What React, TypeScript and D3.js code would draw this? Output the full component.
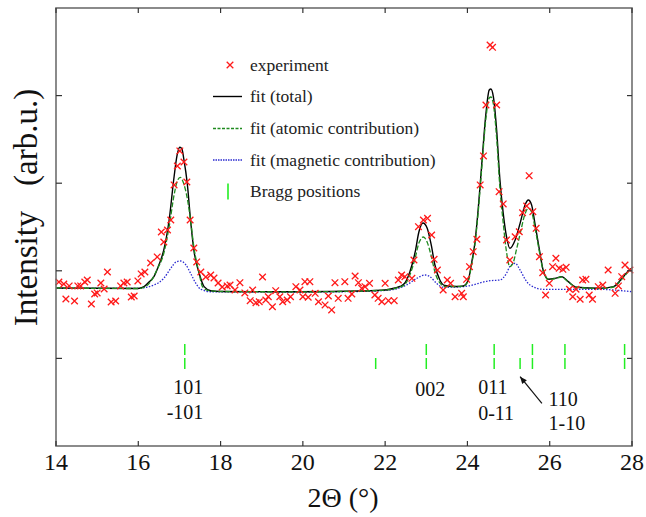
import React from "react";
import * as d3 from "d3";

// ---------- data ----------
const expX = [14.07,14.19,14.24,14.32,14.45,14.53,14.60,14.70,14.76,14.86,14.94,15.00,15.09,15.17,15.25,15.34,15.45,15.57,15.65,15.73,15.83,15.90,15.99,16.07,16.16,16.30,16.46,16.56,16.62,16.71,16.79,16.87,16.95,17.01,17.11,17.18,17.26,17.35,17.42,17.52,17.64,17.76,17.84,17.94,18.04,18.16,
  18.23,18.35,18.47,18.59,18.72,18.78,18.86,18.94,19.02,19.10,19.16,19.26,19.34,19.44,19.51,19.62,19.70,19.83,19.93,20.00,20.05,20.13,20.17,20.30,20.38,20.54,20.62,20.70,20.78,20.86,21.02,21.10,21.19,21.27,21.35,21.43,21.51,21.62,21.75,21.83,21.92,22.00,22.08,22.22,22.32,22.40,22.48,22.65,
  22.70,22.81,22.93,23.03,23.13,23.19,23.27,23.41,23.51,23.59,23.70,23.86,23.90,23.98,24.05,24.14,24.23,24.31,24.39,24.45,24.55,24.61,24.71,24.77,24.87,24.95,25.03,25.16,25.26,25.34,25.44,25.50,25.59,25.67,25.75,25.83,25.90,25.99,26.07,26.15,26.23,26.32,26.40,26.48,26.56,26.64,26.74,26.80,26.88,26.96,27.04,27.18,27.29,27.42,27.59,27.67,27.75,27.83,27.95];
const expY = [187.2,184.9,167.8,182.7,165.5,182.7,182.7,187.2,189.5,162.1,173.5,174.7,186.1,179.2,198.6,164.4,165.5,182.7,186.1,187.2,170.1,171.2,188.4,196.4,198.6,208.9,215.8,244.3,232.9,246.6,258.0,298.0,319.6,336.8,324.2,301.4,258.0,226.0,210.1,198.6,192.9,195.2,191.8,186.1,181.5,182.7,
  183.8,178.1,186.4,174.7,165.9,178.1,163.6,164.7,192.9,166.7,170.4,159.0,177.3,170.4,164.7,166.7,170.4,181.9,178.1,170.4,187.6,169.8,187.6,174.3,164.7,161.0,171.2,155.3,186.4,168.6,187.6,168.6,173.5,194.1,186.4,180.0,181.9,185.7,172.4,168.6,164.7,185.7,165.9,165.9,189.5,195.2,193.3,191.4,
  212.3,250.4,258.0,259.9,240.9,213.1,200.9,178.1,189.5,185.7,170.4,174.3,170.4,190.3,204.7,221.8,236.0,298.0,331.1,389.3,457.8,455.1,389.3,290.3,276.3,235.2,212.3,238.9,244.6,266.3,274.0,308.6,267.5,248.5,216.1,197.8,172.4,185.7,204.7,214.3,202.9,201.7,204.0,178.9,170.4,178.9,167.5,189.5,190.3,172.4,167.5,181.9,183.8,200.9,174.3,182.7,193.3,206.6,200.9];

const totalX = [14.00,15.00,15.99,16.14,16.26,16.38,16.50,16.62,16.75,16.87,16.94,17.01,17.06,17.11,17.19,17.27,17.35,17.48,17.60,17.76,17.99,19.93,21.39,22.00,22.24,22.36,22.48,22.60,22.73,22.82,22.92,23.02,23.12,23.21,23.33,23.45,23.70,23.90,24.02,24.10,24.18,24.26,24.35,24.45,24.53,24.57,24.63,24.71,24.79,24.87,24.95,25.03,25.16,25.28,25.40,25.48,25.56,25.64,25.75,25.84,25.97,26.13,26.29,26.45,26.66,27.22,27.55,27.79,27.95,28.00];
const totalY = [180.4,180.0,179.8,181.9,187.2,193.3,206.6,223.8,258.0,307.4,331.1,341.0,339.1,326.5,299.9,258.0,223.8,197.2,181.9,177.3,176.4,176.0,176.9,178.1,180.4,182.1,186.1,198.6,221.5,244.3,254.6,248.9,229.5,206.6,189.5,183.2,182.1,182.7,189.5,208.6,231.4,269.4,322.7,379.8,406.4,407.6,398.8,360.7,303.7,265.6,238.9,225.7,235.2,254.2,275.1,280.8,275.1,254.2,223.8,200.9,190.3,191.4,193.3,187.6,181.2,180.0,181.9,193.3,201.7,203.2];

const atomicX = [14.00,15.99,16.14,16.30,16.45,16.62,16.75,16.87,16.94,17.02,17.09,17.19,17.27,17.35,17.48,17.56,17.70,17.99,19.93,21.39,22.00,22.24,22.36,22.48,22.60,22.73,22.82,22.93,23.02,23.12,23.21,23.33,23.45,23.70,23.90,24.02,24.10,24.18,24.26,24.35,24.45,24.53,24.57,24.63,24.71,24.79,24.87,24.95,25.03,25.11,25.19,25.28,25.40,25.48,25.56,25.64,25.75,25.84,25.97,26.13,26.29,26.45,26.66,27.22,27.55,27.79,27.95,28.00];
const atomicY = [180.4,179.8,181.2,187.6,200.9,220.0,250.4,286.5,301.4,306.7,301.4,282.8,258.0,227.5,197.2,181.9,177.5,176.4,176.0,176.9,178.1,179.8,181.5,184.4,195.2,214.6,231.7,238.6,232.9,216.9,198.6,186.1,182.1,182.1,182.3,188.4,206.6,229.5,266.0,318.5,374.4,397.3,398.4,390.4,351.6,294.5,254.6,221.5,204.7,208.9,223.8,242.0,264.9,271.4,267.1,250.0,221.5,200.4,190.1,191.2,192.9,187.2,181.2,179.8,181.5,192.4,200.9,202.6];

const magX = [14.00,15.98,16.38,16.62,16.79,16.93,17.03,17.16,17.27,17.40,17.52,17.76,19.93,21.39,22.12,22.52,22.77,22.97,23.09,23.25,23.41,23.90,24.55,24.79,24.95,25.03,25.16,25.28,25.40,25.52,25.84,27.14,28.00];
const magY = [180.0,180.0,183.8,191.4,202.9,210.4,211.2,206.6,197.2,185.7,178.9,176.1,175.8,176.4,178.1,183.8,191.4,195.2,193.3,185.7,181.2,181.9,188.7,189.5,197.2,204.7,208.6,200.9,190.6,183.8,178.9,178.9,176.1];

const braggUpper = [17.13, 23.00, 24.65, 25.58, 26.37, 27.82];
const braggLower = [17.13, 21.77, 23.00, 24.65, 25.28, 25.58, 26.37, 27.82];

const hklText = ["101", "-101", "002", "011", "0-11", "110", "1-10"];
const hklX = [16.85, 16.69, 22.73, 24.26, 24.26, 25.97, 25.97];
const hklY = [59.4, 30.8, 57.4, 59.2, 29.7, 45.7, 18.3];

const arrowFrom = [25.81, 48.7];
const arrowTo = [25.28, 79.1];

const xTicks = [14, 16, 18, 20, 22, 24, 26, 28];
const yTicks = [100, 200, 300, 400];

const legendLabels = [
  "experiment",
  "fit (total)",
  "fit (atomic contribution)",
  "fit (magnetic contribution)",
  "Bragg positions",
];

// ---------- layout ----------
const W = 646, H = 517;
const L = 56, R = 632, T = 8, B = 446;
const FONT = '"Liberation Serif", "Times New Roman", Times, "DejaVu Serif", serif';
const RED = "#ff1a1a";
const GREEN = "#1f8a1f";
const BLUE = "#2b2bd0";
const BRAGG = "#22ee22";
const FRAME = "#6e6e6e";

export default function App() {
  const x = d3.scaleLinear().domain([14, 28]).range([L, R]);
  const y = d3.scaleLinear().domain([0, 500]).range([B, T]);

  const line = d3
    .line<[number, number]>()
    .x((d) => x(d[0]))
    .y((d) => y(d[1]))
    .curve(d3.curveMonotoneX);

  const zip = (a: number[], b: number[]) =>
    a.slice(0, Math.min(a.length, b.length)).map((v, i) => [v, b[i]] as [number, number]);

  const totalPath = line(zip(totalX, totalY)) || "";
  const atomicPath = line(zip(atomicX, atomicY)) || "";
  const magPath = line(zip(magX, magY)) || "";
  const pts = zip(expX, expY);

  const cross = (cx: number, cy: number, s: number, key: any) => (
    <path
      key={key}
      d={`M${cx - s},${cy - s}L${cx + s},${cy + s}M${cx - s},${cy + s}L${cx + s},${cy - s}`}
      stroke={RED}
      strokeWidth={1.3}
      fill="none"
    />
  );

  const legX = 213, legTextX = 250;
  const legRows = [65, 96.5, 128.5, 160, 191.5];

  const ax = x(arrowFrom[0]), ay = y(arrowFrom[1]);
  const bx = x(arrowTo[0]), by = y(arrowTo[1]);
  const ang = Math.atan2(by - ay, bx - ax);
  const hl = 7, hw = 3;
  const head = `M${bx},${by}L${bx - hl * Math.cos(ang) + hw * Math.sin(ang)},${by - hl * Math.sin(ang) - hw * Math.cos(ang)}L${bx - hl * Math.cos(ang) - hw * Math.sin(ang)},${by - hl * Math.sin(ang) + hw * Math.cos(ang)}Z`;

  const tf = { fontFamily: FONT };

  return (
    <svg
      width={W}
      height={H}
      style={{ position: "absolute", left: 0, top: 0, background: "#fff", fontFamily: FONT }}
    >
      <defs>
        <clipPath id="plotClip">
          <rect x={L} y={T} width={R - L} height={B - T} />
        </clipPath>
      </defs>

      {/* Bragg ticks */}
      {braggUpper.map((b, i) => (
        <line key={"bu" + i} x1={x(b)} x2={x(b)} y1={344} y2={355} stroke={BRAGG} strokeWidth={1.5} />
      ))}
      {braggLower.map((b, i) => (
        <line key={"bl" + i} x1={x(b)} x2={x(b)} y1={358} y2={369} stroke={BRAGG} strokeWidth={1.5} />
      ))}

      {/* curves */}
      <g clipPath="url(#plotClip)" fill="none">
        <path d={magPath} stroke={BLUE} strokeWidth={1.3} strokeDasharray="1.5,1.5" />
        <path d={totalPath} stroke="#000" strokeWidth={1.4} />
        <path d={atomicPath} stroke={GREEN} strokeWidth={1.3} strokeDasharray="5,2" />
      </g>

      {/* experiment points */}
      <g>{pts.map((p, i) => cross(x(p[0]), y(p[1]), 3.3, i))}</g>

      {/* hkl labels */}
      {hklText.map((t, i) => (
        <text key={"h" + i} x={x(hklX[i])} y={y(hklY[i])} fontSize={20} fill="#111" style={tf}>
          {t}
        </text>
      ))}
      <line x1={ax} y1={ay} x2={bx} y2={by} stroke="#111" strokeWidth={1.2} />
      <path d={head} fill="#111" />

      {/* frame */}
      <rect x={L} y={T} width={R - L} height={B - T} fill="none" stroke={FRAME} strokeWidth={1.6} />
      {xTicks.map((t, i) => (
        <g key={"xt" + i}>
          <line x1={x(t)} x2={x(t)} y1={B} y2={B - 5} stroke="#333" strokeWidth={1.2} />
          <line x1={x(t)} x2={x(t)} y1={T} y2={T + 5} stroke="#333" strokeWidth={1.2} />
          <text x={x(t)} y={470} fontSize={24} textAnchor="middle" fill="#111" style={tf}>
            {t}
          </text>
        </g>
      ))}
      {yTicks.map((t, i) => (
        <g key={"yt" + i}>
          <line x1={L} x2={L + 6} y1={y(t)} y2={y(t)} stroke="#333" strokeWidth={1.2} />
          <line x1={R} x2={R - 5} y1={y(t)} y2={y(t)} stroke="#333" strokeWidth={1.2} />
        </g>
      ))}

      {/* axis titles */}
      <text x={343} y={507} fontSize={28} textAnchor="middle" fill="#111" style={tf}>
        2Θ (°)
      </text>
      <text
        transform={`translate(37,207.5) rotate(-90)`}
        fontSize={33}
        textAnchor="middle"
        fill="#111"
        style={{ whiteSpace: "pre", fontFamily: FONT }}
      >
        {"Intensity   (arb.u.)"}
      </text>

      {/* legend */}
      <g>
        {cross(legX + 17, legRows[0], 3.3, "lg0")}
        <line x1={legX} x2={legX + 29} y1={legRows[1]} y2={legRows[1]} stroke="#000" strokeWidth={1.4} />
        <line x1={legX} x2={legX + 29} y1={legRows[2]} y2={legRows[2]} stroke={GREEN} strokeWidth={1.3} strokeDasharray="3,1.5" />
        <line x1={legX} x2={legX + 29} y1={legRows[3]} y2={legRows[3]} stroke={BLUE} strokeWidth={1.3} strokeDasharray="1.5,1" />
        <line x1={legX + 15} x2={legX + 15} y1={legRows[4] - 8} y2={legRows[4] + 8} stroke={BRAGG} strokeWidth={1.6} />
        {legendLabels.map((l, i) => (
          <text key={"lt" + i} x={legTextX} y={legRows[i] + 5.5} fontSize={17.5} fill="#222" style={tf}>
            {l}
          </text>
        ))}
      </g>
    </svg>
  );
}
